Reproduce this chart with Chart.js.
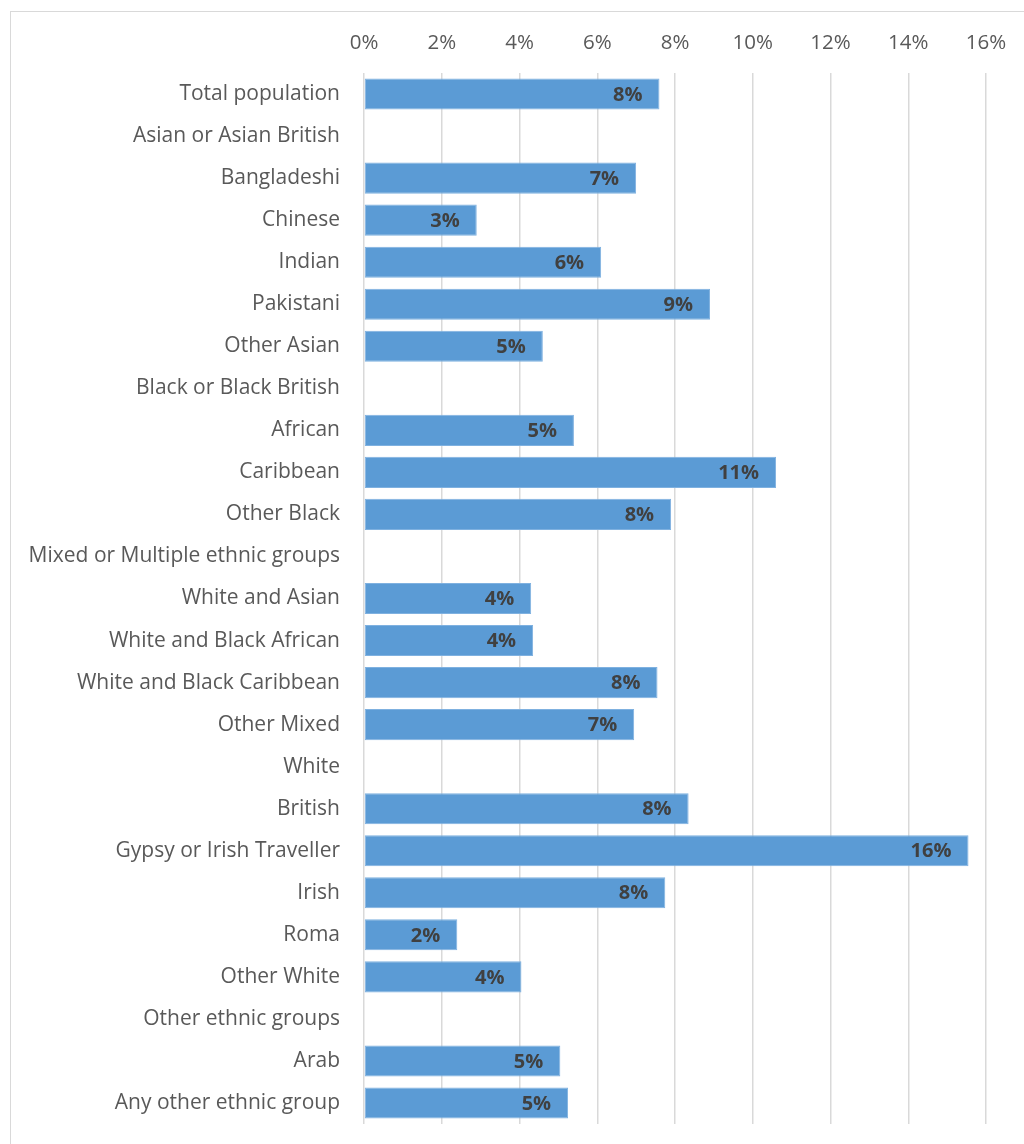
<!DOCTYPE html>
<html>
<head>
<meta charset="utf-8">
<script src="https://cdn.jsdelivr.net/npm/chart.js@4/dist/chart.umd.min.js"></script>
<style>
  html, body { margin: 0; padding: 0; background: #fff; overflow: hidden; }
  #wrap { position: relative; width: 1024px; height: 1144px; }
  #frame { position: absolute; left: 10px; top: 11px; width: 1100px; height: 1200px; border: 1px solid #d9d9d9; box-sizing: border-box; }
  canvas { position: absolute; left: 0; top: 0; }
</style>
</head>
<body>
<div id="wrap">
  <div id="frame"></div>
  <canvas id="c" width="1024" height="1144"></canvas>
</div>
<script>
const categories = [
  "Total population",
  "Asian or Asian British",
  "Bangladeshi",
  "Chinese",
  "Indian",
  "Pakistani",
  "Other Asian",
  "Black or Black British",
  "African",
  "Caribbean",
  "Other Black",
  "Mixed or Multiple ethnic groups",
  "White and Asian",
  "White and Black African",
  "White and Black Caribbean",
  "Other Mixed",
  "White",
  "British",
  "Gypsy or Irish Traveller",
  "Irish",
  "Roma",
  "Other White",
  "Other ethnic groups",
  "Arab",
  "Any other ethnic group"
];
const values = [
  7.6, null, 7.0, 2.9, 6.1, 8.9, 4.6, null, 5.4, 10.6, 7.9, null,
  4.3, 4.35, 7.55, 6.95, null, 8.35, 15.55, 7.75, 2.4, 4.05, null, 5.05, 5.25
];
const xTickMin = 0;
const xTickMax = 16;
const xTickStep = 2;

const FONT = "'Open Sans', sans-serif";

const valueLabels = {
  id: 'valueLabels',
  afterDatasetsDraw(chart) {
    const ctx = chart.ctx;
    const meta = chart.getDatasetMeta(0);
    ctx.save();
    ctx.font = "bold 20px " + FONT;
    ctx.fillStyle = '#404040';
    ctx.textAlign = 'right';
    ctx.textBaseline = 'middle';
    meta.data.forEach((bar, i) => {
      const v = values[i];
      if (v === null || v === undefined) return;
      ctx.fillText(Math.round(v) + '%', bar.x - 17, bar.y + 1);
    });
    ctx.restore();
  }
};

new Chart(document.getElementById('c'), {
  type: 'bar',
  data: {
    labels: categories,
    datasets: [{
      data: values,
      backgroundColor: '#5B9BD5',
      borderColor: '#7FB1E0',
      borderWidth: 1,
      borderSkipped: false,
      barPercentage: 0.74,
      categoryPercentage: 1.0
    }]
  },
  options: {
    indexAxis: 'y',
    responsive: false,
    animation: false,
    maintainAspectRatio: false,
    layout: { padding: { left: 0, right: 38, top: 0, bottom: 20 } },
    plugins: { legend: { display: false }, tooltip: { enabled: false } },
    scales: {
      x: {
        position: 'top',
        min: xTickMin,
        max: xTickMax,
        ticks: {
          stepSize: xTickStep,
          padding: 18,
          color: '#595959',
          font: { family: FONT, size: 20.5 },
          callback: v => v + '%'
        },
        grid: { color: '#d9d9d9', lineWidth: 1.5, drawTicks: false },
        border: { display: false },
        afterFit(scale) { scale.height = 73; scale.paddingLeft = 0; scale.paddingRight = 0; }
      },
      y: {
        ticks: {
          padding: 24,
          color: '#595959',
          font: { family: FONT, size: 21 },
          autoSkip: false
        },
        grid: { display: false, drawTicks: false },
        border: { display: false },
        afterFit(scale) { scale.width = 364; scale.paddingTop = 0; scale.paddingBottom = 0; }
      }
    }
  },
  plugins: [valueLabels]
});
</script>
</body>
</html>
